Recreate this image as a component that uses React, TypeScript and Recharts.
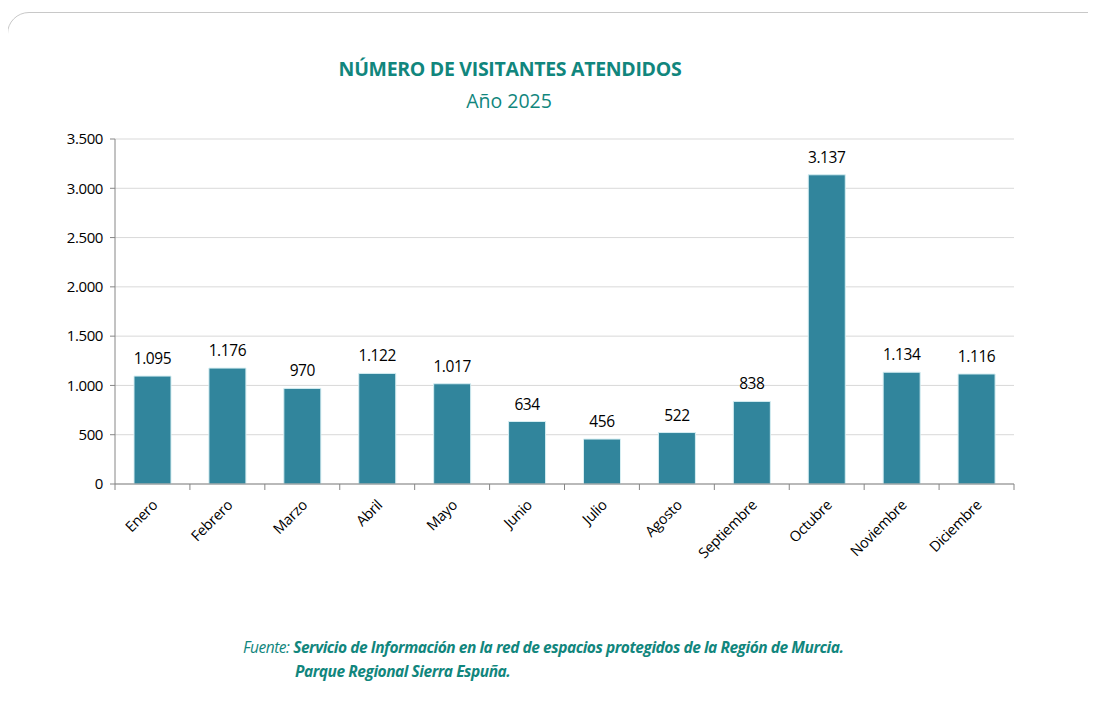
import React from "react";
import { BarChart, Bar, XAxis, YAxis, CartesianGrid, LabelList } from "recharts";

const months = ["Enero", "Febrero", "Marzo", "Abril", "Mayo", "Junio", "Julio", "Agosto", "Septiembre", "Octubre", "Noviembre", "Diciembre"];
const visitors = [1095, 1176, 970, 1122, 1017, 634, 456, 522, 838, 3137, 1134, 1116];
const yTicks = [0, 500, 1000, 1500, 2000, 2500, 3000, 3500];

const data = months.map((m, i) => ({ month: m, value: visitors[i] }));

const TEAL = "#11867D";
const FONT = "'Open Sans', 'Noto Sans', sans-serif";
const fmt = (v: number) => v.toLocaleString("de-DE");

const CHART_W = 1096;
const CHART_H = 713;
const M_LEFT = 55;
const Y_W = 60;
const M_RIGHT = 82;
const PLOT_W = CHART_W - M_LEFT - Y_W - M_RIGHT;
const STEP = PLOT_W / months.length;

const XTick = (props: any) => {
  const { x, y, payload, index } = props;
  const half = STEP / 2;
  return (
    <g>
      <line x1={x - half} y1={y - 8} x2={x - half} y2={y - 2} stroke="#868686" />
      {index === months.length - 1 && (
        <line x1={x + half} y1={y - 8} x2={x + half} y2={y - 2} stroke="#868686" />
      )}
      <text
        x={x + 6}
        y={y + 14}
        textAnchor="end"
        transform={`rotate(-45, ${x + 6}, ${y + 14})`}
        fontSize={14.5}
        fontFamily={FONT}
        letterSpacing={-0.3}
        fill="#000"
      >
        {payload.value}
      </text>
    </g>
  );
};

export default function App() {
  return (
    <div style={{ position: "relative", margin: -8, width: CHART_W, height: CHART_H, background: "#fff", overflow: "hidden" }}>
      <div
        style={{
          position: "absolute",
          left: 7,
          top: 12,
          width: 1120,
          height: 740,
          border: "1px solid #c8c8c8",
          borderRadius: 22,
          boxSizing: "border-box",
        }}
      />
      <div style={{ position: "absolute", left: 0, width: 1020, top: 55, textAlign: "center", fontFamily: FONT, color: TEAL, fontSize: 19.5, fontWeight: 700, letterSpacing: -0.3 }}>
        NÚMERO DE VISITANTES ATENDIDOS
      </div>
      <div style={{ position: "absolute", left: 0, width: 1018, top: 87, textAlign: "center", fontFamily: FONT, color: TEAL, fontSize: 19.5 }}>
        Año 2025
      </div>
      <div style={{ position: "absolute", left: 0, top: 0 }}>
        <BarChart
          width={CHART_W}
          height={CHART_H}
          data={data}
          margin={{ top: 139, right: M_RIGHT, bottom: 139, left: M_LEFT }}
          barCategoryGap="25%"
        >
          <CartesianGrid vertical={false} stroke="#d9d9d9" />
          <XAxis
            dataKey="month"
            height={90}
            tickLine={false}
            axisLine={{ stroke: "#868686" }}
            tick={<XTick />}
            interval={0}
          />
          <YAxis
            width={Y_W}
            domain={[0, 3500]}
            ticks={yTicks}
            tickFormatter={fmt}
            axisLine={{ stroke: "#868686" }}
            tickLine={{ stroke: "#868686" }}
            tickSize={5}
            tick={{ fontSize: 15, fill: "#000", fontFamily: FONT, dx: -5, letterSpacing: -0.4 }}
          />
          <Bar dataKey="value" fill="#31859C" stroke="#d6eef2" strokeWidth={1} isAnimationActive={false} barSize={37}>
            <LabelList
              dataKey="value"
              position="top"
              offset={12}
              formatter={(v: any) => fmt(Number(v))}
              style={{ fontSize: 15.5, fill: "#000", fontFamily: FONT, letterSpacing: -0.4 }}
            />
          </Bar>
        </BarChart>
      </div>
      <div style={{ position: "absolute", left: 243, top: 636, fontFamily: FONT, color: TEAL, fontSize: 15.5, fontStyle: "italic", letterSpacing: -0.45, whiteSpace: "nowrap" }}>
        Fuente: <span style={{ fontWeight: 700 }}>Servicio de Información en la red de espacios protegidos de la Región de Murcia.</span>
      </div>
      <div style={{ position: "absolute", left: 295, top: 660, fontFamily: FONT, color: TEAL, fontSize: 15.5, fontStyle: "italic", fontWeight: 700, letterSpacing: -0.45, whiteSpace: "nowrap" }}>
        Parque Regional Sierra Espuña.
      </div>
    </div>
  );
}
